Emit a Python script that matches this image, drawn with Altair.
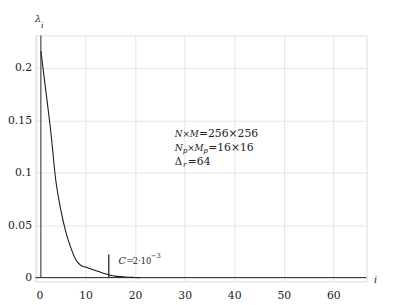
import altair as alt
import pandas as pd

# eigenvalue index and eigenvalues
i_vals = list(range(1, 22))
lam_vals = [0.216, 0.178, 0.139, 0.093, 0.065, 0.044, 0.029, 0.0175, 0.0118, 0.0100,
            0.0085, 0.0068, 0.0052, 0.0036, 0.0023, 0.0014, 0.0009, 0.0005, 0.0003,
            0.0001, 0.0]
x_ticks = [0, 10, 20, 30, 40, 50, 60]
y_ticks = [0, 0.05, 0.1, 0.15, 0.2]
c_index = [14.7]
c_height = [0.022]
axis_index = [1]

FONT = "DejaVu Serif"
X_DOM = [-0.1, 66.7]
Y_DOM = [-0.0036, 0.2308]
xs = alt.Scale(domain=X_DOM, nice=False, zero=False)
ys = alt.Scale(domain=Y_DOM, nice=False, zero=False)

df = pd.DataFrame({"i": i_vals, "lam": lam_vals})

base_axis_x = alt.Axis(values=x_ticks, title=None, grid=True, gridColor="#e4e4e4",
                       domain=False, ticks=False, labelFont=FONT, labelFontSize=11,
                       labelColor="#222", labelPadding=8)
base_axis_y = alt.Axis(values=y_ticks, title=None, grid=True, gridColor="#e4e4e4",
                       domain=False, ticks=False, labelFont=FONT, labelFontSize=11,
                       labelColor="#222", labelPadding=4, format="~g")

line = alt.Chart(df).mark_line(color="#1a1a1a", strokeWidth=1.1, interpolate="monotone").encode(
    x=alt.X("i:Q", scale=xs, axis=base_axis_x),
    y=alt.Y("lam:Q", scale=ys, axis=base_axis_y),
)

hrule = alt.Chart(pd.DataFrame({"x": [X_DOM[0]], "x2": [X_DOM[1]], "y": [0]})).mark_rule(
    color="#222", strokeWidth=1).encode(x=alt.X("x:Q", scale=xs), x2="x2:Q", y=alt.Y("y:Q", scale=ys))

vrule = alt.Chart(pd.DataFrame({"x": axis_index, "y": [0], "y2": [Y_DOM[1]]})).mark_rule(
    color="#222", strokeWidth=1).encode(x=alt.X("x:Q", scale=xs), y=alt.Y("y:Q", scale=ys), y2="y2:Q")

crule = alt.Chart(pd.DataFrame({"x": c_index, "y": [0], "y2": c_height})).mark_rule(
    color="#111", strokeWidth=1.2).encode(x=alt.X("x:Q", scale=xs), y=alt.Y("y:Q", scale=ys), y2="y2:Q")


def txt(s, x, y, size=11, style="normal", align="left", baseline="alphabetic"):
    return alt.Chart(pd.DataFrame({"x": [x], "y": [y], "t": [s]})).mark_text(
        font=FONT, fontSize=size, fontStyle=style, align=align, baseline=baseline, color="#222"
    ).encode(x=alt.X("x:Q", scale=xs), y=alt.Y("y:Q", scale=ys), text="t:N")


texts = [
    # C annotation
    txt("C", 16.66, 0.0129, 10, "italic"),
    txt("=", 18.24, 0.0129, 9.5),
    txt("2·10", 19.53, 0.0129, 8.5),
    txt("−3", 23.17, 0.0190, 7),
    # block annotation, line 1
    txt("N×M", 28.0, 0.1341, 9, "italic"),
    txt("=256×256", 32.89, 0.1341, 11),
    # line 2
    txt("N", 28.0, 0.1206, 9.5, "italic"),
    txt("p", 29.62, 0.1190, 7.5, "italic"),
    txt("×M", 30.51, 0.1206, 9, "italic"),
    txt("p", 33.77, 0.1190, 7.5, "italic"),
    txt("=16×16", 34.76, 0.1206, 11),
    # line 3
    txt("Δ", 28.0, 0.1078, 10.5),
    txt("r", 29.65, 0.1056, 7.5, "italic"),
    txt("=64", 30.65, 0.1078, 11),
    # axis labels
    txt("λ", -0.2, 0.2435, 10, "italic"),
    txt("i", 1.0, 0.2375, 8, "italic"),
    txt("i", 68.5, -0.002, 10, "italic", "center", "middle"),
]

chart = alt.layer(line, hrule, vrule, crule, *texts).properties(
    width=338, height=251, autosize="none",
    padding={"left": 28, "top": 25, "right": 27, "bottom": 18},
).configure_view(stroke="#222", strokeWidth=1).configure(background="white")

chart.save("out.html", embed_options={"renderer": "svg", "actions": False})
